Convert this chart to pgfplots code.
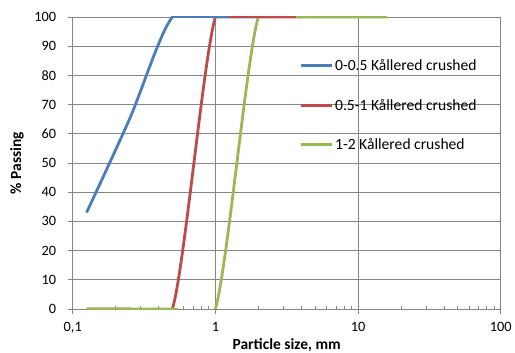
\documentclass[border=0pt]{standalone}
\usepackage{pgfplots}
\pgfplotsset{compat=1.18}
\usepackage{fontspec}
\setmainfont{Carlito}
\definecolor{xlblue}{HTML}{4A7EBB}
\definecolor{xlred}{HTML}{BE4B48}
\definecolor{xlgreen}{HTML}{98B954}
\definecolor{gridgray}{RGB}{134,134,134}
\begin{document}
\begin{tikzpicture}
\begin{axis}[
  scale only axis,
  width=428pt, height=292pt,
  xmode=log, log basis x=10,
  xmin=0.1, xmax=100, ymin=0, ymax=100,
  xtick={0.1,1,10,100},
  xticklabels={{0,1},1,10,100},
  minor xtick={0.2,0.3,0.4,0.5,0.6,0.7,0.8,0.9,2,3,4,5,6,7,8,9,20,30,40,50,60,70,80,90},
  ytick={0,10,...,100},
  xtick pos=bottom, ytick pos=left,
  tick align=outside,
  major tick length=5pt, minor tick length=3pt,
  minor x tick style={yshift=3pt},
  tick style={gridgray, line width=0.8pt},
  xmajorgrids, ymajorgrids,
  major grid style={gridgray, line width=0.8pt},
  axis line style={gridgray, line width=0.8pt},
  /pgf/number format/assume math mode=true,
  ticklabel style={font=\fontsize{14.3}{16}\selectfont, black},
  yticklabel style={xshift=-8pt},
  xticklabel style={yshift=-5pt},
  xlabel={\bfseries Particle size, mm},
  ylabel={\bfseries \% Passing},
  label style={font=\fontsize{15.5}{17}\selectfont},
  xlabel style={at={(axis description cs:0.5,-0.123)}, anchor=center},
  ylabel style={at={(axis description cs:-0.130,0.5)}, anchor=center},
  legend style={draw=none, fill=none, at={(axis description cs:0.529,0.862)}, anchor=north west,
    font=\fontsize{15.6}{17}\selectfont, row sep=23pt, inner sep=0pt},
  legend cell align=left,
  legend image code/.code={\draw[#1, line width=2.8pt] (0pt,0pt) -- (31pt,0pt);},
  clip mode=individual,
]
% measured series (smoothed as in the source)
\addplot[xlblue, line width=2.8pt, smooth, tension=0.5] coordinates {
  (0.125,33) (0.25,65) (0.5,100) (1,100) (2,100)
};
\addlegendentry{0-0.5 Kållered crushed}
\addplot[xlred, line width=2.8pt, smooth, tension=0.5] coordinates {
  (0.125,0) (0.25,0) (0.5,0) (1,100) (2,100) (4,100)
};
\addlegendentry{0.5-1 Kållered crushed}
\addplot[xlgreen, line width=2.8pt, smooth, tension=0.5] coordinates {
  (0.125,0) (0.25,0) (0.5,0) (1,0) (2,100) (4,100) (8,100) (16,100)
};
\addlegendentry{1-2 Kållered crushed}
% flat stretches drawn unclipped at the axis limits
\addplot[xlblue, line width=2.8pt, forget plot, clip=false] coordinates {
  (0.5,100) (2,100)
};
\addplot[xlred, line width=2.8pt, forget plot, clip=false] coordinates {
  (1.25,100) (4,100)
};
\addplot[xlgreen, line width=2.8pt, forget plot, clip=false] coordinates {
  (3.7,100) (16,100)
};
\addplot[xlgreen, line width=2.8pt, forget plot, clip=false] coordinates {
  (0.125,0) (0.55,0)
};
\coordinate (bbsw) at (axis description cs:-0.1699,-0.1507);
\coordinate (bbne) at (axis description cs:1.0334,1.0582);
\end{axis}
\pgfresetboundingbox
\path[use as bounding box] (bbsw) rectangle (bbne);
\end{tikzpicture}
\end{document}
